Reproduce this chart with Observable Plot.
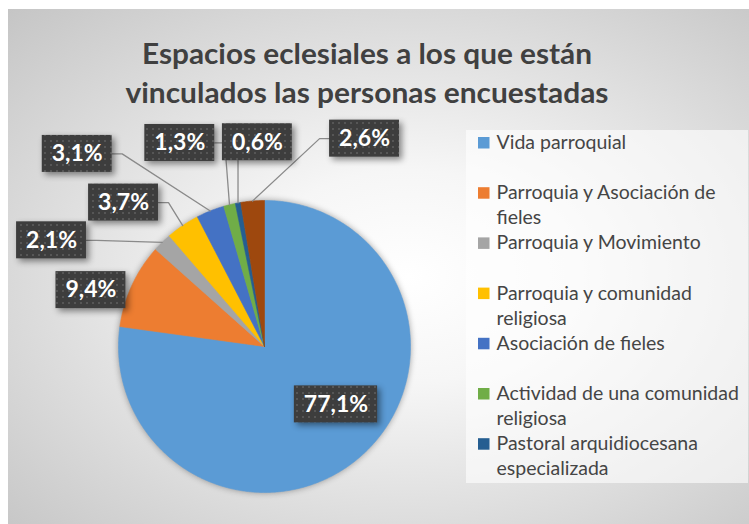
<!DOCTYPE html>
<html>
<head>
<meta charset="utf-8">
<script src="https://cdn.jsdelivr.net/npm/d3@7"></script>
<script src="https://cdn.jsdelivr.net/npm/@observablehq/plot@0.6"></script>
<style>
html, body { margin: 0; padding: 0; background: #fff; }
#wrap { position: relative; width: 749px; height: 524px; overflow: hidden; }
#bg { position: absolute; left: 8px; top: 9px; width: 741px; height: 515px;
  background: radial-gradient(ellipse farthest-corner at 54% 52%, #ffffff 0%, #f6f6f6 28%, #c5c5c5 100%); }
#legbg { position: absolute; left: 466px; top: 130px; width: 282px; height: 353px; background: rgba(255,255,255,0.6); }
#chart { position: absolute; left: 0; top: 0; }
g[aria-description="pie"] { filter: drop-shadow(0 0 3px rgba(0,0,0,0.35)); }
g[aria-description="label box"] { filter: drop-shadow(3px 3px 3px rgba(0,0,0,0.45)); }
</style>
</head>
<body>
<div id="wrap"><div id="bg"></div><div id="legbg"></div><div id="chart"></div></div>
<script>
// ---------- data ----------
const titleLines = ["Espacios eclesiales a los que están", "vinculados las personas encuestadas"];
const categories = [
  "Vida parroquial",
  "Parroquia y Asociación de fieles",
  "Parroquia y Movimiento",
  "Parroquia y comunidad religiosa",
  "Asociación de fieles",
  "Actividad de una comunidad religiosa",
  "Pastoral arquidiocesana especializada",
  "Otros"
];
const values = [77.1, 9.4, 2.1, 3.7, 3.1, 1.3, 0.6, 2.6];
const colors = ["#5B9BD5", "#ED7D31", "#A5A5A5", "#FFC000", "#4472C4", "#70AD47", "#255E91", "#9E480E"];

// ---------- layout ----------
const W = 749, H = 524;
const cx = 264, cy = 346, R = 146;
// label centre: [angle clockwise from 12 o'clock (deg), distance in pie radii]
const labelPlacement = [[129, 0.63], [288, 1.25], [296.5, 1.63], [315.6, 1.38], [315.8, 1.84], [337.4, 1.51], [358, 1.40], [25.7, 1.58]];
const labelFont = "bold 23px Lato";
const legendFont = "19.5px Lato";
const legend = {x: 478, textX: 496, top: 148.5, slot: 50.2, line: 25, bottom: 483, maxW: 246};
const titleX = 366.5, titleBase = 63, titleStep = 39, titleWidths = [450, 483];

// ---------- helpers ----------
const ctx = document.createElement("canvas").getContext("2d");
function measure(t, font) { ctx.font = font; return ctx.measureText(t).width; }
function wrap(text, font, maxW) {
  const words = text.split(" "), lines = [];
  let cur = "";
  for (const w of words) {
    const t = cur ? cur + " " + w : w;
    if (cur && measure(t, font) > maxW) { lines.push(cur); cur = w; } else cur = t;
  }
  if (cur) lines.push(cur);
  return lines;
}
const fmt = d3.formatLocale({decimal: ",", thousands: ".", grouping: [3], currency: ["", "€"]}).format(".1f");
const polar = (a, r) => [cx + r * Math.sin(a), cy - r * Math.cos(a)];
const rad = d => d * Math.PI / 180;

// ---------- pie geometry ----------
const total = d3.sum(values);
let acc = 0;
const slices = values.map((v, i) => {
  const a0 = acc / total * 2 * Math.PI; acc += v;
  const a1 = acc / total * 2 * Math.PI;
  return {cat: categories[i], v, a0, a1, mid: (a0 + a1) / 2, i};
});
const piePts = [];
for (const s of slices) {
  const n = Math.max(2, Math.ceil((s.a1 - s.a0) / rad(0.5)));
  piePts.push({cat: s.cat, x: cx, y: cy});
  for (let k = 0; k <= n; k++) {
    const [x, y] = polar(s.a0 + (s.a1 - s.a0) * k / n, R);
    piePts.push({cat: s.cat, x, y});
  }
  piePts.push({cat: s.cat, x: cx, y: cy});
}

// ---------- labels ----------
const labels = slices.map(s => {
  const [ang, rr] = labelPlacement[s.i];
  const [bx, by] = polar(rad(ang), rr * R);
  const text = fmt(s.v) + "%";
  const hw = measure(text, labelFont) / 2 + 9.5, hh = 18.5;
  const [ax, ay] = polar(s.mid, R);
  return {text, bx, by, hw, hh, ax, ay, rr, i: s.i};
});
const leaderPts = [];
for (const l of labels) {
  if (l.rr < 1) continue;
  let pts;
  if (l.ax >= l.bx - l.hw && l.ax <= l.bx + l.hw) {
    pts = [[l.ax, l.ay > l.by ? l.by + l.hh : l.by - l.hh], [l.ax, l.ay]];
  } else {
    const side = l.ax > l.bx ? 1 : -1;
    const ex = l.bx + side * l.hw;
    pts = [[ex, l.by], [ex + side * 10, l.by], [l.ax, l.ay]];
  }
  const dx = Math.max(0, Math.abs(l.ax - l.bx) - l.hw), dy = Math.max(0, Math.abs(l.ay - l.by) - l.hh);
  if (Math.hypot(dx, dy) < 20) continue;
  for (const [x, y] of pts) leaderPts.push({i: l.i, x, y});
}

// ---------- legend ----------
const legendItems = [], legendLines = [];
categories.forEach((c, i) => {
  const base = legend.top + i * legend.slot;
  if (base + legend.slot - 20 > legend.bottom) return;
  legendItems.push({cat: c, base});
  wrap(c, legendFont, legend.maxW).forEach((t, j) => legendLines.push({t, y: base + j * legend.line}));
});

const plot = Plot.plot({
  width: W, height: H, margin: 0,
  x: {domain: [0, W], range: [0, W], axis: null},
  y: {domain: [0, H], range: [0, H], axis: null},
  color: {domain: categories, range: colors},
  style: {background: "transparent", overflow: "visible"},
  marks: [
    Plot.text(titleLines, {x: titleX, y: (d, i) => titleBase + i * titleStep, text: d => d, lineAnchor: "bottom",
      fontSize: 28.5, fontWeight: "bold", fontFamily: "Lato", fill: "#404040", textAnchor: "middle", ariaDescription: "title"}),
    Plot.line(piePts, {x: "x", y: "y", z: "cat", fill: "cat", stroke: "cat", strokeWidth: 0.6, ariaDescription: "pie"}),
    Plot.line(leaderPts, {x: "x", y: "y", z: "i", stroke: "#8a8a8a", strokeWidth: 1.3, ariaDescription: "leaders"}),
    Plot.rect(labels, {x1: d => d.bx - d.hw, x2: d => d.bx + d.hw, y1: d => d.by - d.hh, y2: d => d.by + d.hh,
      fill: "url(#dots)", ariaDescription: "label box"}),
    Plot.text(labels, {x: "bx", y: "by", text: "text", fill: "white", fontSize: 23, fontWeight: "bold", fontFamily: "Lato", ariaDescription: "labels"}),
    Plot.rect(legendItems, {x1: legend.x, x2: legend.x + 11.5, y1: d => d.base - 11.5, y2: d => d.base, fill: "cat", ariaDescription: "swatches"}),
    Plot.text(legendLines, {x: legend.textX, y: "y", text: "t", lineAnchor: "bottom", textAnchor: "start",
      fontSize: 19.5, fontFamily: "Lato", fill: "#454545", ariaDescription: "legend"})
  ]
});

const svg = d3.select(plot);
const defs = svg.insert("defs", ":first-child");
const pat = defs.append("pattern").attr("id", "dots").attr("width", 6).attr("height", 6).attr("patternUnits", "userSpaceOnUse");
pat.append("rect").attr("width", 6).attr("height", 6).attr("fill", "#3d3d3d");
pat.append("rect").attr("x", 2).attr("y", 2).attr("width", 2).attr("height", 2).attr("fill", "#565656");
svg.selectAll('g[aria-description="title"] text').each(function (d, i) {
  d3.select(this).attr("textLength", titleWidths[i]).attr("lengthAdjust", "spacingAndGlyphs");
});
document.getElementById("chart").appendChild(plot);
</script>
</body>
</html>
